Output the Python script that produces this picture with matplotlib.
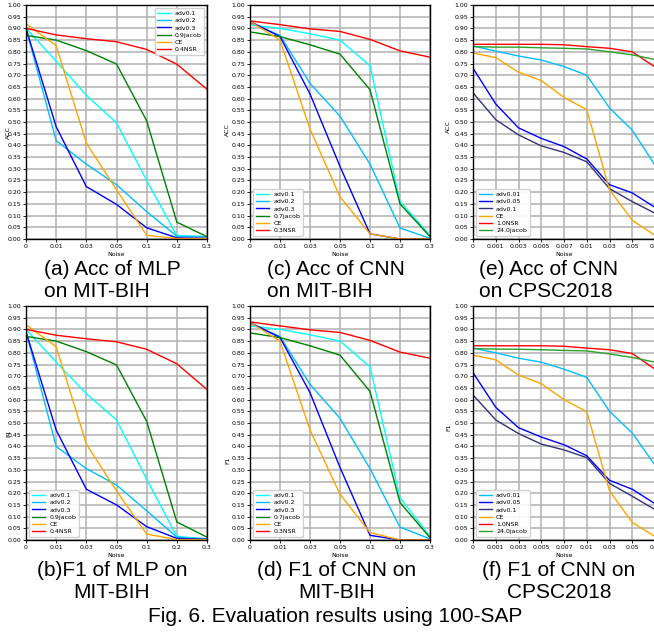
import matplotlib
matplotlib.use("Agg")
import matplotlib.pyplot as plt
from matplotlib.ticker import FormatStrFormatter

# x tick categories (equally spaced)
noise_mit = ["0", "0.01", "0.03", "0.05", "0.1", "0.2", "0.3"]
noise_cpsc = ["0", "0.001", "0.003", "0.005", "0.007", "0.01", "0.03", "0.05", "0.1"]

# (a) Acc of MLP on MIT-BIH
labels_mlp = ["adv0.1", "adv0.2", "adv0.3", "0.9jacob", "CE", "0.4NSR"]
acc_mlp_adv01 = [0.90, 0.76, 0.614, 0.496, 0.25, 0.014, 0.01]
acc_mlp_adv02 = [0.90, 0.42, 0.32, 0.232, 0.117, 0.012, 0.01]
acc_mlp_adv03 = [0.90, 0.48, 0.224, 0.148, 0.048, 0.005, 0.003]
acc_mlp_jacob = [0.87, 0.85, 0.805, 0.748, 0.505, 0.072, 0.01]
acc_mlp_ce = [0.92, 0.826, 0.41, 0.21, 0.016, 0.002, 0.002]
acc_mlp_nsr = [0.90, 0.872, 0.856, 0.843, 0.81, 0.747, 0.64]

# (b) F1 of MLP on MIT-BIH
f1_mlp_adv01 = [0.90, 0.76, 0.625, 0.513, 0.26, 0.015, 0.005]
f1_mlp_adv02 = [0.89, 0.40, 0.305, 0.235, 0.125, 0.012, 0.005]
f1_mlp_adv03 = [0.89, 0.47, 0.217, 0.15, 0.057, 0.007, 0.003]
f1_mlp_jacob = [0.87, 0.85, 0.805, 0.748, 0.507, 0.077, 0.012]
f1_mlp_ce = [0.92, 0.826, 0.41, 0.21, 0.025, 0.002, 0.002]
f1_mlp_nsr = [0.90, 0.875, 0.86, 0.847, 0.815, 0.753, 0.643]

# (c) Acc of CNN on MIT-BIH
labels_cnn = ["adv0.1", "adv0.2", "adv0.3", "0.7jacob", "CE", "0.3NSR"]
acc_cnn_adv01 = [0.915, 0.90, 0.877, 0.85, 0.74, 0.16, 0.015]
acc_cnn_adv02 = [0.925, 0.87, 0.665, 0.525, 0.32, 0.047, 0.003]
acc_cnn_adv03 = [0.93, 0.865, 0.62, 0.31, 0.022, 0.0, 0.0]
acc_cnn_jacob = [0.885, 0.865, 0.83, 0.79, 0.638, 0.15, 0.01]
acc_cnn_ce = [0.93, 0.85, 0.47, 0.18, 0.022, 0.0, 0.0]
acc_cnn_nsr = [0.932, 0.916, 0.898, 0.887, 0.853, 0.804, 0.777]

# (d) F1 of CNN on MIT-BIH
f1_cnn_adv01 = [0.915, 0.90, 0.877, 0.85, 0.74, 0.18, 0.015]
f1_cnn_adv02 = [0.925, 0.87, 0.665, 0.52, 0.305, 0.055, 0.005]
f1_cnn_adv03 = [0.93, 0.865, 0.63, 0.31, 0.02, 0.0, 0.0]
f1_cnn_jacob = [0.885, 0.865, 0.83, 0.79, 0.635, 0.16, 0.01]
f1_cnn_ce = [0.93, 0.85, 0.47, 0.195, 0.032, 0.0, 0.0]
f1_cnn_nsr = [0.932, 0.915, 0.898, 0.887, 0.853, 0.803, 0.777]

# (e) Acc of CNN on CPSC2018
labels_cpsc = ["adv0.01", "adv0.05", "adv0.1", "CE", "1.0NSR", "24.0jacob"]
acc_cpsc_adv001 = [0.825, 0.803, 0.782, 0.765, 0.737, 0.70, 0.56, 0.465, 0.315]
acc_cpsc_adv005 = [0.73, 0.577, 0.475, 0.43, 0.395, 0.342, 0.232, 0.197, 0.135]
acc_cpsc_adv01 = [0.625, 0.51, 0.445, 0.398, 0.37, 0.33, 0.215, 0.16, 0.11]
acc_cpsc_ce = [0.795, 0.775, 0.713, 0.677, 0.605, 0.553, 0.21, 0.08, 0.015]
acc_cpsc_nsr = [0.832, 0.832, 0.832, 0.832, 0.83, 0.822, 0.815, 0.80, 0.735]
acc_cpsc_jacob = [0.822, 0.82, 0.82, 0.817, 0.815, 0.812, 0.80, 0.787, 0.767]

# (f) F1 of CNN on CPSC2018
f1_cpsc_adv001 = [0.82, 0.80, 0.777, 0.76, 0.73, 0.695, 0.55, 0.457, 0.32]
f1_cpsc_adv005 = [0.715, 0.567, 0.48, 0.44, 0.407, 0.36, 0.255, 0.217, 0.155]
f1_cpsc_adv01 = [0.62, 0.513, 0.455, 0.41, 0.385, 0.352, 0.242, 0.187, 0.13]
f1_cpsc_ce = [0.79, 0.77, 0.705, 0.668, 0.60, 0.548, 0.21, 0.075, 0.015]
f1_cpsc_nsr = [0.83, 0.83, 0.83, 0.83, 0.828, 0.82, 0.813, 0.797, 0.73]
f1_cpsc_jacob = [0.818, 0.816, 0.815, 0.813, 0.81, 0.808, 0.795, 0.78, 0.76]

colors_mit = ["cyan", "deepskyblue", "blue", "green", "orange", "red"]
colors_cpsc = ["deepskyblue", "blue", "#333377", "orange", "red", "#2ca02c"]


def draw(ax, xlabels, series, labels, colors, ylabel, loc, ylab_pos):
    x = list(range(len(xlabels)))
    for ys, lab, c in zip(series, labels, colors):
        ax.plot(x, ys, color=c, lw=1.0, label=lab)
    ax.set_xlim(0, len(xlabels) - 1)
    ax.set_ylim(0, 1)
    ax.set_xticks(x)
    ax.set_xticklabels(xlabels)
    ax.set_yticks([i * 0.05 for i in range(21)])
    ax.yaxis.set_major_formatter(FormatStrFormatter("%.2f"))
    ax.tick_params(labelsize=4.5, length=2, width=0.6, pad=1.5)
    ax.grid(True, color="#b0b0b0", lw=1.1)
    for s in ax.spines.values():
        s.set_linewidth(1.0)
    ax.set_xlabel("Noise", fontsize=4.5, labelpad=2)
    ax.set_ylabel(ylabel, fontsize=4.5)
    ax.yaxis.set_label_coords(*ylab_pos)
    ax.legend(loc=loc, fontsize=4.5, handlelength=2.2, borderpad=0.4,
              labelspacing=0.3, handletextpad=0.6, framealpha=0.9)


W, H = 654, 635
fig = plt.figure(figsize=(W / 100, H / 100), dpi=100)


def box(l, r, top, bot):
    return [l / W, 1 - bot / H, (r - l) / W, (bot - top) / H]


ax_a = fig.add_axes(box(26, 207, 5, 239))
ax_c = fig.add_axes(box(250, 430, 5, 239))
ax_e = fig.add_axes(box(473, 655, 5, 239))
ax_b = fig.add_axes(box(26, 207, 306, 540))
ax_d = fig.add_axes(box(250, 430, 306, 540))
ax_f = fig.add_axes(box(473, 655, 306, 540))

draw(ax_a, noise_mit, [acc_mlp_adv01, acc_mlp_adv02, acc_mlp_adv03, acc_mlp_jacob, acc_mlp_ce, acc_mlp_nsr],
     labels_mlp, colors_mit, "ACC", "upper right", (-15 / 181, 0.453))
draw(ax_b, noise_mit, [f1_mlp_adv01, f1_mlp_adv02, f1_mlp_adv03, f1_mlp_jacob, f1_mlp_ce, f1_mlp_nsr],
     labels_mlp, colors_mit, "F1", "lower left", (-15 / 181, 0.457))
draw(ax_c, noise_mit, [acc_cnn_adv01, acc_cnn_adv02, acc_cnn_adv03, acc_cnn_jacob, acc_cnn_ce, acc_cnn_nsr],
     labels_cnn, colors_mit, "ACC", "lower left", (-20 / 180, 0.466))
draw(ax_d, noise_mit, [f1_cnn_adv01, f1_cnn_adv02, f1_cnn_adv03, f1_cnn_jacob, f1_cnn_ce, f1_cnn_nsr],
     labels_cnn, colors_mit, "F1", "lower left", (-20 / 180, 0.34))
draw(ax_e, noise_cpsc, [acc_cpsc_adv001, acc_cpsc_adv005, acc_cpsc_adv01, acc_cpsc_ce, acc_cpsc_nsr, acc_cpsc_jacob],
     labels_cpsc, colors_cpsc, "ACC", "lower left", (-22 / 182, 0.48))
draw(ax_f, noise_cpsc, [f1_cpsc_adv001, f1_cpsc_adv005, f1_cpsc_adv01, f1_cpsc_ce, f1_cpsc_nsr, f1_cpsc_jacob],
     labels_cpsc, colors_cpsc, "F1", "lower left", (-22 / 182, 0.483))

# captions
cap = dict(fontsize=15, family="Liberation Sans", va="center", linespacing=1.2)
fig.text(44 / W, 1 - 281 / H, "(a) Acc of MLP\non MIT-BIH", ha="left", multialignment="left", **cap)
fig.text(267 / W, 1 - 281 / H, "(c) Acc of CNN\non MIT-BIH", ha="left", multialignment="left", **cap)
fig.text(479 / W, 1 - 281 / H, "(e) Acc of CNN\non CPSC2018", ha="left", multialignment="left", **cap)
fig.text(112 / W, 1 - 582 / H, "(b)F1 of MLP on\nMIT-BIH", ha="center", multialignment="center", **cap)
fig.text(337 / W, 1 - 582 / H, "(d) F1 of CNN on\nMIT-BIH", ha="center", multialignment="center", **cap)
fig.text(559 / W, 1 - 582 / H, "(f) F1 of CNN on\nCPSC2018", ha="center", multialignment="center", **cap)
fig.text(335 / W, 1 - 617 / H, "Fig. 6. Evaluation results using 100-SAP", ha="center", **cap)

fig.savefig("out.png", dpi=100)
